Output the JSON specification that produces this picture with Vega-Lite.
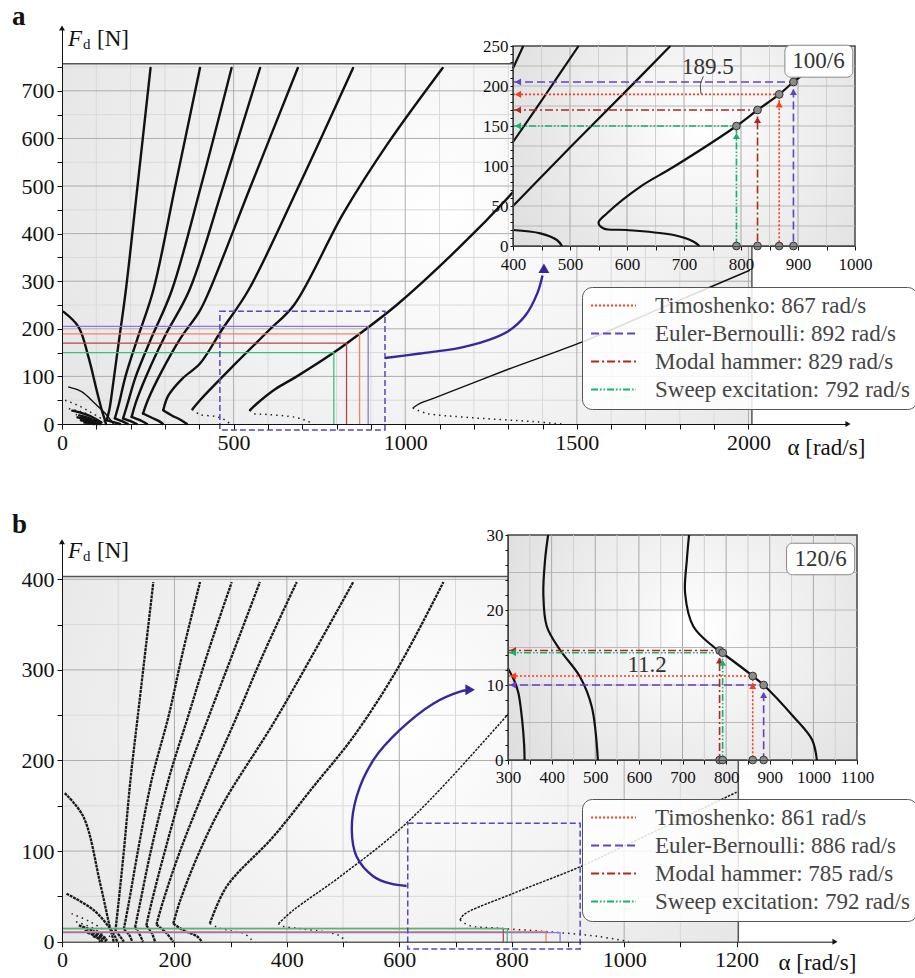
{
"$schema": "https://vega.github.io/schema/vega-lite/v6.json",
"width": 915, "height": 978, "autosize": "none", "padding": 0, "background": "white",
"config": {
  "view": {"stroke": null},
  "font": "Liberation Serif",
  "axis": {"grid": false, "zindex": 1, "domainColor": "#111", "tickColor": "#111", "labelColor": "#111", "labelFont": "Liberation Serif", "labelFontSize": 22, "titleFont": "Liberation Serif", "titleFontWeight": "normal", "titleFontSize": 23, "titleColor": "#111", "labelOverlap": false, "labelFlush": false, "tickSize": 5, "labelPadding": 3},
  "legend": {"symbolType": "M-2.4,0H2.4", "symbolSize": 350, "symbolOffset": 13, "symbolStrokeWidth": 1.8, "labelFont": "Liberation Serif", "labelFontSize": 23, "labelColor": "#444", "fillColor": "rgba(255,255,255,0.86)", "strokeColor": "#555", "cornerRadius": 10, "padding": 7, "rowPadding": 4, "labelOffset": 30, "labelLimit": 400}
},
"datasets": {
  "curvesA": [
    {"c":"C1u","k":"m","i":0,"x":130,"y":8},{"c":"C1u","k":"m","i":1,"x":138,"y":30},{"c":"C1u","k":"m","i":2,"x":150,"y":90},{"c":"C1u","k":"m","i":3,"x":165,"y":170},{"c":"C1u","k":"m","i":4,"x":186,"y":281},{"c":"C1u","k":"m","i":5,"x":220,"y":500},{"c":"C1u","k":"m","i":6,"x":258,"y":748},
    {"c":"C2u","k":"m","i":0,"x":154,"y":12},{"c":"C2u","k":"m","i":1,"x":165,"y":40},{"c":"C2u","k":"m","i":2,"x":185,"y":100},{"c":"C2u","k":"m","i":3,"x":220,"y":180},{"c":"C2u","k":"m","i":4,"x":266,"y":281},{"c":"C2u","k":"m","i":5,"x":330,"y":500},{"c":"C2u","k":"m","i":6,"x":402,"y":748},
    {"c":"C3u","k":"m","i":0,"x":178,"y":12},{"c":"C3u","k":"m","i":1,"x":190,"y":40},{"c":"C3u","k":"m","i":2,"x":215,"y":100},{"c":"C3u","k":"m","i":3,"x":260,"y":180},{"c":"C3u","k":"m","i":4,"x":320,"y":281},{"c":"C3u","k":"m","i":5,"x":405,"y":500},{"c":"C3u","k":"m","i":6,"x":494,"y":748},
    {"c":"C4u","k":"m","i":0,"x":203,"y":15},{"c":"C4u","k":"m","i":1,"x":215,"y":45},{"c":"C4u","k":"m","i":2,"x":245,"y":100},{"c":"C4u","k":"m","i":3,"x":300,"y":185},{"c":"C4u","k":"m","i":4,"x":371,"y":281},{"c":"C4u","k":"m","i":5,"x":470,"y":500},{"c":"C4u","k":"m","i":6,"x":577,"y":748},
    {"c":"C5u","k":"m","i":0,"x":236,"y":22},{"c":"C5u","k":"m","i":1,"x":250,"y":50},{"c":"C5u","k":"m","i":2,"x":290,"y":110},{"c":"C5u","k":"m","i":3,"x":345,"y":180},{"c":"C5u","k":"m","i":4,"x":400,"y":236},{"c":"C5u","k":"m","i":5,"x":430,"y":281},{"c":"C5u","k":"m","i":6,"x":550,"y":500},{"c":"C5u","k":"m","i":7,"x":687,"y":748},
    {"c":"C6u","k":"m","i":0,"x":295,"y":29},{"c":"C6u","k":"m","i":1,"x":310,"y":60},{"c":"C6u","k":"m","i":2,"x":350,"y":95},{"c":"C6u","k":"m","i":3,"x":402,"y":127},{"c":"C6u","k":"m","i":4,"x":465,"y":197},{"c":"C6u","k":"m","i":5,"x":543,"y":281},{"c":"C6u","k":"m","i":6,"x":690,"y":500},{"c":"C6u","k":"m","i":7,"x":848,"y":748},
    {"c":"C7u","k":"m","i":0,"x":380,"y":31},{"c":"C7u","k":"m","i":1,"x":402,"y":50},{"c":"C7u","k":"m","i":2,"x":500,"y":123},{"c":"C7u","k":"m","i":3,"x":603,"y":197},{"c":"C7u","k":"m","i":4,"x":676,"y":250},{"c":"C7u","k":"m","i":5,"x":820,"y":443},{"c":"C7u","k":"m","i":6,"x":950,"y":590},{"c":"C7u","k":"m","i":7,"x":1109,"y":748},
    {"c":"C8u","k":"m","i":0,"x":548,"y":29},{"c":"C8u","k":"m","i":1,"x":565,"y":41},{"c":"C8u","k":"m","i":2,"x":623,"y":74},{"c":"C8u","k":"m","i":3,"x":682,"y":99},{"c":"C8u","k":"m","i":4,"x":792,"y":150},{"c":"C8u","k":"m","i":5,"x":867,"y":189.5},{"c":"C8u","k":"m","i":6,"x":975,"y":250},{"c":"C8u","k":"m","i":7,"x":1159,"y":372},{"c":"C8u","k":"m","i":8,"x":1310,"y":484},{"c":"C8u","k":"m","i":9,"x":1450,"y":600},
    {"c":"A0","k":"m","i":0,"x":4,"y":236},{"c":"A0","k":"m","i":1,"x":48,"y":204},{"c":"A0","k":"m","i":2,"x":77,"y":141},{"c":"A0","k":"m","i":3,"x":101,"y":71},{"c":"A0","k":"m","i":4,"x":116,"y":29},{"c":"A0","k":"m","i":5,"x":125,"y":8},{"c":"A0","k":"m","i":6,"x":128,"y":0},
    {"c":"A5","k":"m","i":0,"x":60,"y":12},{"c":"A5","k":"m","i":1,"x":85,"y":8},{"c":"A5","k":"m","i":2,"x":100,"y":2},{"c":"A5","k":"m","i":3,"x":102,"y":0},
    {"c":"A6","k":"m","i":0,"x":70,"y":6},{"c":"A6","k":"m","i":1,"x":88,"y":3},{"c":"A6","k":"m","i":2,"x":95,"y":0},
    {"c":"A7","k":"m","i":0,"x":50,"y":18},{"c":"A7","k":"m","i":1,"x":80,"y":12},{"c":"A7","k":"m","i":2,"x":105,"y":4},{"c":"A7","k":"m","i":3,"x":110,"y":0},
    {"c":"A8","k":"m","i":0,"x":30,"y":28},{"c":"A8","k":"m","i":1,"x":70,"y":20},{"c":"A8","k":"m","i":2,"x":100,"y":10},{"c":"A8","k":"m","i":3,"x":115,"y":3},
    {"c":"A9","k":"m","i":0,"x":45,"y":14},{"c":"A9","k":"m","i":1,"x":75,"y":9},{"c":"A9","k":"m","i":2,"x":100,"y":4},{"c":"A9","k":"m","i":3,"x":112,"y":0},
    {"c":"A10","k":"m","i":0,"x":55,"y":8},{"c":"A10","k":"m","i":1,"x":80,"y":5},{"c":"A10","k":"m","i":2,"x":98,"y":2},{"c":"A10","k":"m","i":3,"x":104,"y":0},
    {"c":"A11","k":"m","i":0,"x":65,"y":3},{"c":"A11","k":"m","i":1,"x":85,"y":1.5},{"c":"A11","k":"m","i":2,"x":92,"y":0},
    {"c":"C1l","k":"m","i":0,"x":130,"y":8},{"c":"C1l","k":"m","i":1,"x":150,"y":4},{"c":"C1l","k":"m","i":2,"x":169,"y":0},
    {"c":"C2l","k":"m","i":0,"x":154,"y":12},{"c":"C2l","k":"m","i":1,"x":175,"y":6},{"c":"C2l","k":"m","i":2,"x":192,"y":0},
    {"c":"C3l","k":"m","i":0,"x":178,"y":12},{"c":"C3l","k":"m","i":1,"x":200,"y":6},{"c":"C3l","k":"m","i":2,"x":218,"y":0},
    {"c":"C4l","k":"m","i":0,"x":203,"y":15},{"c":"C4l","k":"m","i":1,"x":230,"y":7},{"c":"C4l","k":"m","i":2,"x":248,"y":0},
    {"c":"C5l","k":"m","i":0,"x":236,"y":22},{"c":"C5l","k":"m","i":1,"x":265,"y":12},{"c":"C5l","k":"m","i":2,"x":285,"y":5},{"c":"C5l","k":"m","i":3,"x":294,"y":0},
    {"c":"C6l","k":"m","i":0,"x":295,"y":29},{"c":"C6l","k":"m","i":1,"x":320,"y":18},{"c":"C6l","k":"m","i":2,"x":345,"y":9},{"c":"C6l","k":"m","i":3,"x":364,"y":0},
    {"c":"C9u","k":"t","i":0,"x":1022,"y":33.6},{"c":"C9u","k":"t","i":1,"x":1043,"y":43.4},{"c":"C9u","k":"t","i":2,"x":1082,"y":54},{"c":"C9u","k":"t","i":3,"x":1300,"y":115},{"c":"C9u","k":"t","i":4,"x":1518,"y":173},{"c":"C9u","k":"t","i":5,"x":1750,"y":245},{"c":"C9u","k":"t","i":6,"x":2004,"y":323},
    {"c":"A1","k":"t","i":0,"x":18,"y":78},{"c":"A1","k":"t","i":1,"x":57,"y":68},{"c":"A1","k":"t","i":2,"x":96,"y":43},{"c":"A1","k":"t","i":3,"x":125,"y":23},{"c":"A1","k":"t","i":4,"x":145,"y":5},{"c":"A1","k":"t","i":5,"x":150,"y":0},
    {"c":"C7l","k":"d","i":0,"x":380,"y":31},{"c":"C7l","k":"d","i":1,"x":402,"y":20},{"c":"C7l","k":"d","i":2,"x":448,"y":15.8},{"c":"C7l","k":"d","i":3,"x":477,"y":7.5},{"c":"C7l","k":"d","i":4,"x":489,"y":0},
    {"c":"C8l","k":"d","i":0,"x":548,"y":29},{"c":"C8l","k":"d","i":1,"x":559,"y":22},{"c":"C8l","k":"d","i":2,"x":600,"y":20},{"c":"C8l","k":"d","i":3,"x":682,"y":13.7},{"c":"C8l","k":"d","i":4,"x":717,"y":5.4},{"c":"C8l","k":"d","i":5,"x":730,"y":0},
    {"c":"C9l","k":"d","i":0,"x":1022,"y":33.6},{"c":"C9l","k":"d","i":1,"x":1062,"y":22.5},{"c":"C9l","k":"d","i":2,"x":1179,"y":14},{"c":"C9l","k":"d","i":3,"x":1373,"y":5},{"c":"C9l","k":"d","i":4,"x":1455,"y":0},
    {"c":"A2","k":"d","i":0,"x":9,"y":50},{"c":"A2","k":"d","i":1,"x":50,"y":38},{"c":"A2","k":"d","i":2,"x":90,"y":22},{"c":"A2","k":"d","i":3,"x":120,"y":8},{"c":"A2","k":"d","i":4,"x":128,"y":0},
    {"c":"A3","k":"d","i":0,"x":20,"y":32},{"c":"A3","k":"d","i":1,"x":60,"y":25},{"c":"A3","k":"d","i":2,"x":95,"y":12},{"c":"A3","k":"d","i":3,"x":115,"y":3},
    {"c":"A4","k":"d","i":0,"x":40,"y":20},{"c":"A4","k":"d","i":1,"x":70,"y":14},{"c":"A4","k":"d","i":2,"x":100,"y":5},{"c":"A4","k":"d","i":3,"x":108,"y":0}
  ],
  "curvesB": [
    {"c":"B1u","k":"m","i":0,"x":95,"y":12},{"c":"B1u","k":"m","i":1,"x":100,"y":40},{"c":"B1u","k":"m","i":2,"x":110,"y":100},{"c":"B1u","k":"m","i":3,"x":122,"y":180},{"c":"B1u","k":"m","i":4,"x":135,"y":250},{"c":"B1u","k":"m","i":5,"x":150,"y":330},{"c":"B1u","k":"m","i":6,"x":162.5,"y":397},
    {"c":"B2u","k":"m","i":0,"x":110,"y":14},{"c":"B2u","k":"m","i":1,"x":118,"y":40},{"c":"B2u","k":"m","i":2,"x":135,"y":100},{"c":"B2u","k":"m","i":3,"x":160,"y":180},{"c":"B2u","k":"m","i":4,"x":190,"y":250},{"c":"B2u","k":"m","i":5,"x":215,"y":320},{"c":"B2u","k":"m","i":6,"x":245.6,"y":397},
    {"c":"B3u","k":"m","i":0,"x":130,"y":16},{"c":"B3u","k":"m","i":1,"x":138,"y":40},{"c":"B3u","k":"m","i":2,"x":158,"y":100},{"c":"B3u","k":"m","i":3,"x":190,"y":180},{"c":"B3u","k":"m","i":4,"x":225,"y":250},{"c":"B3u","k":"m","i":5,"x":260,"y":320},{"c":"B3u","k":"m","i":6,"x":302,"y":397},
    {"c":"B4u","k":"m","i":0,"x":150,"y":18},{"c":"B4u","k":"m","i":1,"x":160,"y":45},{"c":"B4u","k":"m","i":2,"x":183,"y":100},{"c":"B4u","k":"m","i":3,"x":220,"y":180},{"c":"B4u","k":"m","i":4,"x":262,"y":250},{"c":"B4u","k":"m","i":5,"x":305,"y":320},{"c":"B4u","k":"m","i":6,"x":352,"y":397},
    {"c":"B5u","k":"m","i":0,"x":168,"y":19},{"c":"B5u","k":"m","i":1,"x":180,"y":45},{"c":"B5u","k":"m","i":2,"x":210,"y":100},{"c":"B5u","k":"m","i":3,"x":255,"y":170},{"c":"B5u","k":"m","i":4,"x":305,"y":240},{"c":"B5u","k":"m","i":5,"x":360,"y":320},{"c":"B5u","k":"m","i":6,"x":417.6,"y":397},
    {"c":"B6u","k":"m","i":0,"x":198,"y":20},{"c":"B6u","k":"m","i":1,"x":210,"y":45},{"c":"B6u","k":"m","i":2,"x":245,"y":100},{"c":"B6u","k":"m","i":3,"x":287,"y":153},{"c":"B6u","k":"m","i":4,"x":376,"y":241},{"c":"B6u","k":"m","i":5,"x":447,"y":318},{"c":"B6u","k":"m","i":6,"x":518,"y":397},
    {"c":"B7u","k":"m","i":0,"x":263,"y":20},{"c":"B7u","k":"m","i":1,"x":293,"y":61},{"c":"B7u","k":"m","i":2,"x":376,"y":116},{"c":"B7u","k":"m","i":3,"x":447,"y":171},{"c":"B7u","k":"m","i":4,"x":518,"y":226},{"c":"B7u","k":"m","i":5,"x":595.5,"y":300},{"c":"B7u","k":"m","i":6,"x":678.5,"y":397},
    {"c":"Bl0","k":"m","i":0,"x":5,"y":164},{"c":"Bl0","k":"m","i":1,"x":38,"y":138},{"c":"Bl0","k":"m","i":2,"x":68,"y":64},{"c":"Bl0","k":"m","i":3,"x":85,"y":16.5},{"c":"Bl0","k":"m","i":4,"x":90,"y":5},{"c":"Bl0","k":"m","i":5,"x":92,"y":0},
    {"c":"Bl1","k":"m","i":0,"x":8,"y":53},{"c":"Bl1","k":"m","i":1,"x":56,"y":35},{"c":"Bl1","k":"m","i":2,"x":85,"y":15},{"c":"Bl1","k":"m","i":3,"x":95,"y":5},{"c":"Bl1","k":"m","i":4,"x":98,"y":0},
    {"c":"B1l","k":"m","i":0,"x":95,"y":12},{"c":"B1l","k":"m","i":1,"x":103,"y":6},{"c":"B1l","k":"m","i":2,"x":110,"y":0},
    {"c":"B2l","k":"m","i":0,"x":110,"y":14},{"c":"B2l","k":"m","i":1,"x":120,"y":7},{"c":"B2l","k":"m","i":2,"x":125,"y":0},
    {"c":"B3l","k":"m","i":0,"x":130,"y":16},{"c":"B3l","k":"m","i":1,"x":138,"y":8},{"c":"B3l","k":"m","i":2,"x":144,"y":0},
    {"c":"B4l","k":"m","i":0,"x":150,"y":18},{"c":"B4l","k":"m","i":1,"x":160,"y":9},{"c":"B4l","k":"m","i":2,"x":165.5,"y":0},
    {"c":"B5l","k":"m","i":0,"x":168,"y":19},{"c":"B5l","k":"m","i":1,"x":185,"y":10},{"c":"B5l","k":"m","i":2,"x":198,"y":0},
    {"c":"B6l","k":"m","i":0,"x":198,"y":20},{"c":"B6l","k":"m","i":1,"x":215,"y":13},{"c":"B6l","k":"m","i":2,"x":240,"y":6},{"c":"B6l","k":"m","i":3,"x":249,"y":0},
    {"c":"Bb1","k":"m","i":0,"x":45,"y":10},{"c":"Bb1","k":"m","i":1,"x":60,"y":6},{"c":"Bb1","k":"m","i":2,"x":70,"y":2},{"c":"Bb1","k":"m","i":3,"x":72,"y":0},
    {"c":"Bb2","k":"m","i":0,"x":55,"y":6},{"c":"Bb2","k":"m","i":1,"x":65,"y":3},{"c":"Bb2","k":"m","i":2,"x":68,"y":0},
    {"c":"Bb3","k":"m","i":0,"x":30,"y":18},{"c":"Bb3","k":"m","i":1,"x":55,"y":12},{"c":"Bb3","k":"m","i":2,"x":75,"y":5},{"c":"Bb3","k":"m","i":3,"x":80,"y":1},
    {"c":"Bb4","k":"m","i":0,"x":40,"y":12},{"c":"Bb4","k":"m","i":1,"x":60,"y":8},{"c":"Bb4","k":"m","i":2,"x":75,"y":3},{"c":"Bb4","k":"m","i":3,"x":78,"y":0},
    {"c":"B8u","k":"t","i":0,"x":385,"y":20},{"c":"B8u","k":"t","i":1,"x":412,"y":35},{"c":"B8u","k":"t","i":2,"x":495,"y":72},{"c":"B8u","k":"t","i":3,"x":613,"y":131},{"c":"B8u","k":"t","i":4,"x":779,"y":241},{"c":"B8u","k":"t","i":5,"x":860,"y":300},
    {"c":"B9u","k":"t","i":0,"x":708,"y":24},{"c":"B9u","k":"t","i":1,"x":715,"y":30},{"c":"B9u","k":"t","i":2,"x":803,"y":53.4},{"c":"B9u","k":"t","i":3,"x":922,"y":82.8},{"c":"B9u","k":"t","i":4,"x":998,"y":105},{"c":"B9u","k":"t","i":5,"x":1200,"y":165},
    {"c":"B7l","k":"d","i":0,"x":263,"y":20},{"c":"B7l","k":"d","i":1,"x":280,"y":15},{"c":"B7l","k":"d","i":2,"x":300,"y":12.2},{"c":"B7l","k":"d","i":3,"x":324,"y":8.9},{"c":"B7l","k":"d","i":4,"x":337,"y":2},{"c":"B7l","k":"d","i":5,"x":338,"y":0},
    {"c":"B8l","k":"d","i":0,"x":385,"y":20},{"c":"B8l","k":"d","i":1,"x":389,"y":17.8},{"c":"B8l","k":"d","i":2,"x":419,"y":14.7},{"c":"B8l","k":"d","i":3,"x":465,"y":11.1},{"c":"B8l","k":"d","i":4,"x":492,"y":7.1},{"c":"B8l","k":"d","i":5,"x":506,"y":0},
    {"c":"B9l","k":"d","i":0,"x":708,"y":24},{"c":"B9l","k":"d","i":1,"x":725,"y":17.8},{"c":"B9l","k":"d","i":2,"x":771,"y":15.1},{"c":"B9l","k":"d","i":3,"x":861,"y":11.2},{"c":"B9l","k":"d","i":4,"x":954,"y":5.8},{"c":"B9l","k":"d","i":5,"x":1008,"y":0},
    {"c":"Bl2","k":"d","i":0,"x":17,"y":31},{"c":"Bl2","k":"d","i":1,"x":50,"y":22},{"c":"Bl2","k":"d","i":2,"x":80,"y":10},{"c":"Bl2","k":"d","i":3,"x":88,"y":2},
    {"c":"Bl3","k":"d","i":0,"x":25,"y":22},{"c":"Bl3","k":"d","i":1,"x":55,"y":15},{"c":"Bl3","k":"d","i":2,"x":75,"y":6},{"c":"Bl3","k":"d","i":3,"x":80,"y":0},
    {"c":"Bl4","k":"d","i":0,"x":35,"y":15},{"c":"Bl4","k":"d","i":1,"x":60,"y":9},{"c":"Bl4","k":"d","i":2,"x":72,"y":3}
  ],
  "insetA": [
    {"c":"IA5","i":0,"x":400,"y":222},{"c":"IA5","i":1,"x":418,"y":250},
    {"c":"IA6","i":0,"x":400,"y":130},{"c":"IA6","i":1,"x":458,"y":190},{"c":"IA6","i":2,"x":515,"y":250},
    {"c":"IA7","i":0,"x":400,"y":50},{"c":"IA7","i":1,"x":500,"y":123},{"c":"IA7","i":2,"x":603,"y":197},{"c":"IA7","i":3,"x":676,"y":250},
    {"c":"IA7l","i":0,"x":400,"y":20},{"c":"IA7l","i":1,"x":448,"y":15.8},{"c":"IA7l","i":2,"x":477,"y":7.5},{"c":"IA7l","i":3,"x":486,"y":0},
    {"c":"IA8","i":0,"x":727,"y":0},{"c":"IA8","i":1,"x":717,"y":5.4},{"c":"IA8","i":2,"x":682,"y":13.7},{"c":"IA8","i":3,"x":600,"y":20},{"c":"IA8","i":4,"x":559,"y":22},{"c":"IA8","i":5,"x":550,"y":29},{"c":"IA8","i":6,"x":565,"y":41},{"c":"IA8","i":7,"x":623,"y":74},{"c":"IA8","i":8,"x":682,"y":99},{"c":"IA8","i":9,"x":792,"y":150},{"c":"IA8","i":10,"x":829,"y":170},{"c":"IA8","i":11,"x":867,"y":189.5},{"c":"IA8","i":12,"x":892,"y":205},{"c":"IA8","i":13,"x":975,"y":250}
  ],
  "insetB": [
    {"c":"IB1","i":0,"x":300,"y":12.2},{"c":"IB1","i":1,"x":315,"y":10.5},{"c":"IB1","i":2,"x":324,"y":8.9},{"c":"IB1","i":3,"x":333,"y":5},{"c":"IB1","i":4,"x":337,"y":2},{"c":"IB1","i":5,"x":338,"y":0},
    {"c":"IB2","i":0,"x":392,"y":30},{"c":"IB2","i":1,"x":385,"y":26.7},{"c":"IB2","i":2,"x":381,"y":22.2},{"c":"IB2","i":3,"x":389,"y":17.8},{"c":"IB2","i":4,"x":419,"y":14.7},{"c":"IB2","i":5,"x":465,"y":11.1},{"c":"IB2","i":6,"x":492,"y":7.1},{"c":"IB2","i":7,"x":506,"y":0},
    {"c":"IB3","i":0,"x":715,"y":30},{"c":"IB3","i":1,"x":710,"y":26.7},{"c":"IB3","i":2,"x":706,"y":22.2},{"c":"IB3","i":3,"x":725,"y":17.8},{"c":"IB3","i":4,"x":771,"y":15.1},{"c":"IB3","i":5,"x":788,"y":14.4},{"c":"IB3","i":6,"x":861,"y":11.2},{"c":"IB3","i":7,"x":886,"y":10},{"c":"IB3","i":8,"x":954,"y":5.8},{"c":"IB3","i":9,"x":997,"y":2.7},{"c":"IB3","i":10,"x":1008,"y":0}
  ],
  "guidesA": [
    {"label":"Timoshenko: 867 rad/s","i":0,"x":0,"y":189.5},{"label":"Timoshenko: 867 rad/s","i":1,"x":867,"y":189.5},{"label":"Timoshenko: 867 rad/s","i":2,"x":867,"y":0},
    {"label":"Euler-Bernoulli: 892 rad/s","i":0,"x":0,"y":205},{"label":"Euler-Bernoulli: 892 rad/s","i":1,"x":892,"y":205},{"label":"Euler-Bernoulli: 892 rad/s","i":2,"x":892,"y":0},
    {"label":"Modal hammer: 829 rad/s","i":0,"x":0,"y":170},{"label":"Modal hammer: 829 rad/s","i":1,"x":829,"y":170},{"label":"Modal hammer: 829 rad/s","i":2,"x":829,"y":0},
    {"label":"Sweep excitation: 792 rad/s","i":0,"x":0,"y":150},{"label":"Sweep excitation: 792 rad/s","i":1,"x":792,"y":150},{"label":"Sweep excitation: 792 rad/s","i":2,"x":792,"y":0}
  ],
  "arrowsIA": [
    {"label":"Timoshenko: 867 rad/s","i":0,"x":400,"y":189.5},{"label":"Timoshenko: 867 rad/s","i":1,"x":867,"y":189.5},{"label":"Timoshenko: 867 rad/s","i":2,"x":867,"y":0},
    {"label":"Euler-Bernoulli: 892 rad/s","i":0,"x":400,"y":205},{"label":"Euler-Bernoulli: 892 rad/s","i":1,"x":892,"y":205},{"label":"Euler-Bernoulli: 892 rad/s","i":2,"x":892,"y":0},
    {"label":"Modal hammer: 829 rad/s","i":0,"x":400,"y":170},{"label":"Modal hammer: 829 rad/s","i":1,"x":829,"y":170},{"label":"Modal hammer: 829 rad/s","i":2,"x":829,"y":0},
    {"label":"Sweep excitation: 792 rad/s","i":0,"x":400,"y":150},{"label":"Sweep excitation: 792 rad/s","i":1,"x":792,"y":150},{"label":"Sweep excitation: 792 rad/s","i":2,"x":792,"y":0}
  ],
  "guidesB": [
    {"label":"Timoshenko: 861 rad/s","i":0,"x":0,"y":11.2},{"label":"Timoshenko: 861 rad/s","i":1,"x":861,"y":11.2},{"label":"Timoshenko: 861 rad/s","i":2,"x":861,"y":0},
    {"label":"Euler-Bernoulli: 886 rad/s","i":0,"x":0,"y":10},{"label":"Euler-Bernoulli: 886 rad/s","i":1,"x":886,"y":10},{"label":"Euler-Bernoulli: 886 rad/s","i":2,"x":886,"y":0},
    {"label":"Modal hammer: 785 rad/s","i":0,"x":0,"y":14.6},{"label":"Modal hammer: 785 rad/s","i":1,"x":785,"y":14.6},{"label":"Modal hammer: 785 rad/s","i":2,"x":785,"y":0},
    {"label":"Sweep excitation: 792 rad/s","i":0,"x":0,"y":14.3},{"label":"Sweep excitation: 792 rad/s","i":1,"x":792,"y":14.3},{"label":"Sweep excitation: 792 rad/s","i":2,"x":792,"y":0}
  ],
  "arrowsIB": [
    {"label":"Timoshenko: 861 rad/s","i":0,"x":300,"y":11.2},{"label":"Timoshenko: 861 rad/s","i":1,"x":861,"y":11.2},{"label":"Timoshenko: 861 rad/s","i":2,"x":861,"y":0},
    {"label":"Euler-Bernoulli: 886 rad/s","i":0,"x":300,"y":10},{"label":"Euler-Bernoulli: 886 rad/s","i":1,"x":886,"y":10},{"label":"Euler-Bernoulli: 886 rad/s","i":2,"x":886,"y":0},
    {"label":"Modal hammer: 785 rad/s","i":0,"x":300,"y":14.6},{"label":"Modal hammer: 785 rad/s","i":1,"x":785,"y":14.6},{"label":"Modal hammer: 785 rad/s","i":2,"x":785,"y":0},
    {"label":"Sweep excitation: 792 rad/s","i":0,"x":300,"y":14.3},{"label":"Sweep excitation: 792 rad/s","i":1,"x":792,"y":14.3},{"label":"Sweep excitation: 792 rad/s","i":2,"x":792,"y":0}
  ],
  "arrowA": [
    {"i":0,"x":941,"y":138.6},{"i":1,"x":1043,"y":148},{"i":2,"x":1159,"y":160},{"i":3,"x":1237,"y":175},{"i":4,"x":1300,"y":195},{"i":5,"x":1350,"y":228},{"i":6,"x":1385,"y":275},{"i":7,"x":1400,"y":312}
  ],
  "arrowB": [
    {"i":0,"x":613,"y":61.5},{"i":1,"x":585,"y":64},{"i":2,"x":554,"y":72},{"i":3,"x":524,"y":94},{"i":4,"x":515.5,"y":123},{"i":5,"x":524,"y":160},{"i":6,"x":554,"y":200.6},{"i":7,"x":601,"y":233.7},{"i":8,"x":661,"y":263},{"i":9,"x":708,"y":276},{"i":10,"x":720,"y":277.5}
  ],
  "gridA": [
    {"a":"x","v":100,"m":0,"lo":0,"hi":757},{"a":"x","v":200,"m":0,"lo":0,"hi":757},{"a":"x","v":300,"m":0,"lo":0,"hi":757},{"a":"x","v":400,"m":0,"lo":0,"hi":757},{"a":"x","v":500,"m":1,"lo":0,"hi":757},{"a":"x","v":600,"m":0,"lo":0,"hi":757},{"a":"x","v":700,"m":0,"lo":0,"hi":757},{"a":"x","v":800,"m":0,"lo":0,"hi":757},{"a":"x","v":900,"m":0,"lo":0,"hi":757},{"a":"x","v":1000,"m":1,"lo":0,"hi":757},{"a":"x","v":1100,"m":0,"lo":0,"hi":757},{"a":"x","v":1200,"m":0,"lo":0,"hi":757},{"a":"x","v":1300,"m":0,"lo":0,"hi":757},{"a":"x","v":1400,"m":0,"lo":0,"hi":757},{"a":"x","v":1500,"m":1,"lo":0,"hi":757},{"a":"x","v":1600,"m":0,"lo":0,"hi":757},{"a":"x","v":1700,"m":0,"lo":0,"hi":757},{"a":"x","v":1800,"m":0,"lo":0,"hi":757},{"a":"x","v":1900,"m":0,"lo":0,"hi":757},{"a":"x","v":2000,"m":1,"lo":0,"hi":757},
    {"a":"y","v":50,"m":0,"lo":0,"hi":2010},{"a":"y","v":100,"m":1,"lo":0,"hi":2010},{"a":"y","v":150,"m":0,"lo":0,"hi":2010},{"a":"y","v":200,"m":1,"lo":0,"hi":2010},{"a":"y","v":250,"m":0,"lo":0,"hi":2010},{"a":"y","v":300,"m":1,"lo":0,"hi":2010},{"a":"y","v":350,"m":0,"lo":0,"hi":2010},{"a":"y","v":400,"m":1,"lo":0,"hi":2010},{"a":"y","v":450,"m":0,"lo":0,"hi":2010},{"a":"y","v":500,"m":1,"lo":0,"hi":2010},{"a":"y","v":550,"m":0,"lo":0,"hi":2010},{"a":"y","v":600,"m":1,"lo":0,"hi":2010},{"a":"y","v":650,"m":0,"lo":0,"hi":2010},{"a":"y","v":700,"m":1,"lo":0,"hi":2010},{"a":"y","v":750,"m":0,"lo":0,"hi":2010}
  ],
  "gridB": [
    {"a":"x","v":100,"m":0,"lo":0,"hi":403},{"a":"x","v":200,"m":1,"lo":0,"hi":403},{"a":"x","v":300,"m":0,"lo":0,"hi":403},{"a":"x","v":400,"m":1,"lo":0,"hi":403},{"a":"x","v":500,"m":0,"lo":0,"hi":403},{"a":"x","v":600,"m":1,"lo":0,"hi":403},{"a":"x","v":700,"m":0,"lo":0,"hi":403},{"a":"x","v":800,"m":1,"lo":0,"hi":403},{"a":"x","v":900,"m":0,"lo":0,"hi":403},{"a":"x","v":1000,"m":1,"lo":0,"hi":403},{"a":"x","v":1100,"m":0,"lo":0,"hi":403},
    {"a":"y","v":50,"m":0,"lo":0,"hi":1203},{"a":"y","v":100,"m":1,"lo":0,"hi":1203},{"a":"y","v":150,"m":0,"lo":0,"hi":1203},{"a":"y","v":200,"m":1,"lo":0,"hi":1203},{"a":"y","v":250,"m":0,"lo":0,"hi":1203},{"a":"y","v":300,"m":1,"lo":0,"hi":1203},{"a":"y","v":350,"m":0,"lo":0,"hi":1203},{"a":"y","v":400,"m":1,"lo":0,"hi":1203}
  ],
  "gridIA": [
    {"a":"x","v":450,"m":0,"lo":0,"hi":250},{"a":"x","v":500,"m":1,"lo":0,"hi":250},{"a":"x","v":550,"m":0,"lo":0,"hi":250},{"a":"x","v":600,"m":1,"lo":0,"hi":250},{"a":"x","v":650,"m":0,"lo":0,"hi":250},{"a":"x","v":700,"m":1,"lo":0,"hi":250},{"a":"x","v":750,"m":0,"lo":0,"hi":250},{"a":"x","v":800,"m":1,"lo":0,"hi":250},{"a":"x","v":850,"m":0,"lo":0,"hi":250},{"a":"x","v":900,"m":1,"lo":0,"hi":250},{"a":"x","v":950,"m":0,"lo":0,"hi":250},
    {"a":"y","v":25,"m":0,"lo":400,"hi":1000},{"a":"y","v":50,"m":1,"lo":400,"hi":1000},{"a":"y","v":75,"m":0,"lo":400,"hi":1000},{"a":"y","v":100,"m":1,"lo":400,"hi":1000},{"a":"y","v":125,"m":0,"lo":400,"hi":1000},{"a":"y","v":150,"m":1,"lo":400,"hi":1000},{"a":"y","v":175,"m":0,"lo":400,"hi":1000},{"a":"y","v":200,"m":1,"lo":400,"hi":1000},{"a":"y","v":225,"m":0,"lo":400,"hi":1000}
  ],
  "gridIB": [
    {"a":"x","v":350,"m":0,"lo":0,"hi":30},{"a":"x","v":400,"m":1,"lo":0,"hi":30},{"a":"x","v":450,"m":0,"lo":0,"hi":30},{"a":"x","v":500,"m":1,"lo":0,"hi":30},{"a":"x","v":550,"m":0,"lo":0,"hi":30},{"a":"x","v":600,"m":1,"lo":0,"hi":30},{"a":"x","v":650,"m":0,"lo":0,"hi":30},{"a":"x","v":700,"m":1,"lo":0,"hi":30},{"a":"x","v":750,"m":0,"lo":0,"hi":30},{"a":"x","v":800,"m":1,"lo":0,"hi":30},{"a":"x","v":850,"m":0,"lo":0,"hi":30},{"a":"x","v":900,"m":1,"lo":0,"hi":30},{"a":"x","v":950,"m":0,"lo":0,"hi":30},{"a":"x","v":1000,"m":1,"lo":0,"hi":30},{"a":"x","v":1050,"m":0,"lo":0,"hi":30},
    {"a":"y","v":5,"m":0,"lo":300,"hi":1100},{"a":"y","v":10,"m":1,"lo":300,"hi":1100},{"a":"y","v":15,"m":0,"lo":300,"hi":1100},{"a":"y","v":20,"m":1,"lo":300,"hi":1100},{"a":"y","v":25,"m":0,"lo":300,"hi":1100}
  ]
},
"layer": [
 {"data": {"values": [{"x0": 0, "x1": 2010, "y0": 0, "y1": 757}]},
  "mark": {"type": "rect", "fill": {"gradient": "radial", "x1": 0.55, "y1": 0.45, "r1": 0, "x2": 0.55, "y2": 0.45, "r2": 0.8, "stops": [{"offset": 0, "color": "#ffffff"}, {"offset": 1, "color": "#dedede"}]}},
  "encoding": {
    "x": {"field": "x0", "type": "quantitative", "scale": {"domain": [0, 2290], "range": [62, 848], "nice": false, "zero": false},
          "axis": {"orient": "bottom", "offset": -554, "zindex": 2, "values": [0,100,200,300,400,500,600,700,800,900,1000,1100,1200,1300,1400,1500,1600,1700,1800,1900,2000], "labelExpr": "datum.value % 500 === 0 ? datum.label : ''", "format": "d", "labelFont": "Liberation Serif", "titleFont": "Liberation Serif", "title": "α [rad/s]", "titleX": 787, "titleY": 23, "titleAlign": "left", "titleBaseline": "middle", "titleAngle": 0}},
    "x2": {"field": "x1"},
    "y": {"field": "y0", "type": "quantitative", "scale": {"domain": [0, 832], "range": [424, 28], "nice": false, "zero": false},
          "axis": {"orient": "left", "offset": -62, "zindex": 2, "values": [0,50,100,150,200,250,300,350,400,450,500,550,600,650,700,750], "labelExpr": "datum.value % 100 === 0 ? datum.label : ''", "format": "d", "labelFont": "Liberation Serif", "title": null}},
    "y2": {"field": "y1"}
  }},
 {"data": {"name": "gridA"}, "transform": [{"filter": "datum.a === 'x' && datum.m === 0"}],
  "mark": {"type": "rule", "strokeWidth": 1, "color": "#dadada"},
  "encoding": {"x": {"field": "v", "type": "quantitative", "scale": {"domain": [0, 2290], "range": [62, 848], "nice": false, "zero": false}, "axis": null},
               "y": {"field": "lo", "type": "quantitative", "scale": {"domain": [0, 832], "range": [424, 28], "nice": false, "zero": false}, "axis": null}, "y2": {"field": "hi"}}},
 {"data": {"name": "gridA"}, "transform": [{"filter": "datum.a === 'y' && datum.m === 0"}],
  "mark": {"type": "rule", "strokeWidth": 1, "color": "#dadada"},
  "encoding": {"y": {"field": "v", "type": "quantitative", "scale": {"domain": [0, 832], "range": [424, 28], "nice": false, "zero": false}, "axis": null},
               "x": {"field": "lo", "type": "quantitative", "scale": {"domain": [0, 2290], "range": [62, 848], "nice": false, "zero": false}, "axis": null}, "x2": {"field": "hi"}}},
 {"data": {"name": "gridA"}, "transform": [{"filter": "datum.a === 'x' && datum.m === 1"}],
  "mark": {"type": "rule", "strokeWidth": 1, "color": "#adadad"},
  "encoding": {"x": {"field": "v", "type": "quantitative", "scale": {"domain": [0, 2290], "range": [62, 848], "nice": false, "zero": false}, "axis": null},
               "y": {"field": "lo", "type": "quantitative", "scale": {"domain": [0, 832], "range": [424, 28], "nice": false, "zero": false}, "axis": null}, "y2": {"field": "hi"}}},
 {"data": {"name": "gridA"}, "transform": [{"filter": "datum.a === 'y' && datum.m === 1"}],
  "mark": {"type": "rule", "strokeWidth": 1, "color": "#adadad"},
  "encoding": {"y": {"field": "v", "type": "quantitative", "scale": {"domain": [0, 832], "range": [424, 28], "nice": false, "zero": false}, "axis": null},
               "x": {"field": "lo", "type": "quantitative", "scale": {"domain": [0, 2290], "range": [62, 848], "nice": false, "zero": false}, "axis": null}, "x2": {"field": "hi"}}},
 {"data": {"values": [{"x0": 0, "x1": 2290, "y0": 757, "y1": 757}, {"x0": 2010, "x1": 2010, "y0": 0, "y1": 757}]}, "mark": {"type": "rule", "color": "#555", "strokeWidth": 1.5},
  "encoding": {"x": {"field": "x0", "type": "quantitative", "scale": {"domain": [0, 2290], "range": [62, 848], "nice": false, "zero": false}, "axis": null}, "x2": {"field": "x1"},
               "y": {"field": "y0", "type": "quantitative", "scale": {"domain": [0, 832], "range": [424, 28], "nice": false, "zero": false}, "axis": null}, "y2": {"field": "y1"}}},
 {"data": {"name": "curvesA"}, "transform": [{"filter": "datum.k === 'm'"}],
  "mark": {"type": "line", "interpolate": "catmull-rom", "color": "#111", "strokeWidth": 2.4, "strokeCap": "round"},
  "encoding": {"x": {"field": "x", "type": "quantitative", "scale": {"domain": [0, 2290], "range": [62, 848], "nice": false, "zero": false}, "axis": null},
               "y": {"field": "y", "type": "quantitative", "scale": {"domain": [0, 832], "range": [424, 28], "nice": false, "zero": false}, "axis": null},
               "detail": {"field": "c", "type": "nominal"}, "order": {"field": "i", "type": "quantitative"}}},
 {"data": {"name": "curvesA"}, "transform": [{"filter": "datum.k === 't'"}],
  "mark": {"type": "line", "interpolate": "catmull-rom", "color": "#111", "strokeWidth": 1.4},
  "encoding": {"x": {"field": "x", "type": "quantitative", "scale": {"domain": [0, 2290], "range": [62, 848], "nice": false, "zero": false}, "axis": null},
               "y": {"field": "y", "type": "quantitative", "scale": {"domain": [0, 832], "range": [424, 28], "nice": false, "zero": false}, "axis": null},
               "detail": {"field": "c", "type": "nominal"}, "order": {"field": "i", "type": "quantitative"}}},
 {"data": {"name": "curvesA"}, "transform": [{"filter": "datum.k === 'd'"}],
  "mark": {"type": "line", "interpolate": "catmull-rom", "color": "#222", "strokeWidth": 1.5, "strokeDash": [1.5, 4]},
  "encoding": {"x": {"field": "x", "type": "quantitative", "scale": {"domain": [0, 2290], "range": [62, 848], "nice": false, "zero": false}, "axis": null},
               "y": {"field": "y", "type": "quantitative", "scale": {"domain": [0, 832], "range": [424, 28], "nice": false, "zero": false}, "axis": null},
               "detail": {"field": "c", "type": "nominal"}, "order": {"field": "i", "type": "quantitative"}}},
 {"data": {"name": "guidesA"}, "mark": {"type": "line", "strokeWidth": 1.3},
  "encoding": {"x": {"field": "x", "type": "quantitative", "scale": {"domain": [0, 2290], "range": [62, 848], "nice": false, "zero": false}, "axis": null},
               "y": {"field": "y", "type": "quantitative", "scale": {"domain": [0, 832], "range": [424, 28], "nice": false, "zero": false}, "axis": null},
               "order": {"field": "i", "type": "quantitative"},
               "stroke": {"field": "label", "type": "nominal", "scale": {"domain": ["Timoshenko: 867 rad/s","Euler-Bernoulli: 892 rad/s","Modal hammer: 829 rad/s","Sweep excitation: 792 rad/s"], "range": ["#f4845f","#8a78d8","#b04848","#3fbf7f"]}, "legend": null}}},
 {"data": {"values": [{"x0": 460, "x1": 941, "y0": -12.6, "y1": 237}]}, "mark": {"type": "rect", "filled": false, "color": "#5645c4", "strokeDash": [6, 3], "strokeWidth": 1.5},
  "encoding": {"x": {"field": "x0", "type": "quantitative", "scale": {"domain": [0, 2290], "range": [62, 848], "nice": false, "zero": false}, "axis": null}, "x2": {"field": "x1"},
               "y": {"field": "y0", "type": "quantitative", "scale": {"domain": [0, 832], "range": [424, 28], "nice": false, "zero": false}, "axis": null}, "y2": {"field": "y1"}}},
 {"data": {"name": "arrowA"}, "mark": {"type": "line", "interpolate": "catmull-rom", "color": "#35289c", "strokeWidth": 2.4},
  "encoding": {"x": {"field": "x", "type": "quantitative", "scale": {"domain": [0, 2290], "range": [62, 848], "nice": false, "zero": false}, "axis": null},
               "y": {"field": "y", "type": "quantitative", "scale": {"domain": [0, 832], "range": [424, 28], "nice": false, "zero": false}, "axis": null},
               "order": {"field": "i", "type": "quantitative"}}},
 {"data": {"values": [{"x": 1404, "y": 327, "s": "triangle-up", "z": "big"}, {"x": 2290, "y": 0, "s": "triangle-right", "z": "small"}, {"x": 0, "y": 832, "s": "triangle-up", "z": "small"}]}, "mark": {"type": "point", "filled": true, "opacity": 1},
  "encoding": {"x": {"field": "x", "type": "quantitative", "scale": {"domain": [0, 2290], "range": [62, 848], "nice": false, "zero": false}, "axis": null},
               "y": {"field": "y", "type": "quantitative", "scale": {"domain": [0, 832], "range": [424, 28], "nice": false, "zero": false}, "axis": null},
               "shape": {"field": "s", "type": "nominal", "scale": null},
               "color": {"field": "z", "type": "nominal", "scale": {"domain": ["big", "small"], "range": ["#35289c", "#111"]}, "legend": null},
               "size": {"field": "z", "type": "nominal", "scale": {"domain": ["big", "small"], "range": [120, 35]}, "legend": null}}},
 {"data": {"values": [{"t": "F", "x": 17.5, "y": 794}]}, "mark": {"type": "text", "fontSize": 23, "fontStyle": "italic", "align": "left", "baseline": "alphabetic", "color": "#111", "font": "Liberation Serif"},
  "encoding": {"x": {"field": "x", "type": "quantitative", "scale": {"domain": [0, 2290], "range": [62, 848], "nice": false, "zero": false}, "axis": null},
               "y": {"field": "y", "type": "quantitative", "scale": {"domain": [0, 832], "range": [424, 28], "nice": false, "zero": false}, "axis": null}, "text": {"field": "t", "type": "nominal"}}},
 {"data": {"values": [{"t": "[N]", "x": 102, "y": 794}]}, "mark": {"type": "text", "fontSize": 23, "align": "left", "baseline": "alphabetic", "color": "#111", "font": "Liberation Serif"},
  "encoding": {"x": {"field": "x", "type": "quantitative", "scale": {"domain": [0, 2290], "range": [62, 848], "nice": false, "zero": false}, "axis": null},
               "y": {"field": "y", "type": "quantitative", "scale": {"domain": [0, 832], "range": [424, 28], "nice": false, "zero": false}, "axis": null}, "text": {"field": "t", "type": "nominal"}}},
 {"data": {"values": [{"t": "d", "x": 61, "y": 787.6}]}, "mark": {"type": "text", "fontSize": 15, "align": "left", "baseline": "alphabetic", "color": "#111", "font": "Liberation Serif"},
  "encoding": {"x": {"field": "x", "type": "quantitative", "scale": {"domain": [0, 2290], "range": [62, 848], "nice": false, "zero": false}, "axis": null},
               "y": {"field": "y", "type": "quantitative", "scale": {"domain": [0, 832], "range": [424, 28], "nice": false, "zero": false}, "axis": null}, "text": {"field": "t", "type": "nominal"}}},
 {"data": {"values": [{"t": "a", "x": -145.6, "y": 838}]}, "mark": {"type": "text", "fontSize": 27, "fontWeight": "bold", "align": "left", "baseline": "alphabetic", "color": "#111", "font": "Liberation Serif"},
  "encoding": {"x": {"field": "x", "type": "quantitative", "scale": {"domain": [0, 2290], "range": [62, 848], "nice": false, "zero": false}, "axis": null},
               "y": {"field": "y", "type": "quantitative", "scale": {"domain": [0, 832], "range": [424, 28], "nice": false, "zero": false}, "axis": null}, "text": {"field": "t", "type": "nominal"}}},

 {"data": {"values": [{"x0": 400, "x1": 1000, "y0": 0, "y1": 250}]},
  "mark": {"type": "rect", "stroke": "#444", "strokeWidth": 1.5, "fill": {"gradient": "radial", "x1": 0.55, "y1": 0.45, "r1": 0, "x2": 0.55, "y2": 0.45, "r2": 0.8, "stops": [{"offset": 0, "color": "#ffffff"}, {"offset": 1, "color": "#d6d6d6"}]}},
  "encoding": {
    "x": {"field": "x0", "type": "quantitative", "scale": {"domain": [400, 1000], "range": [513, 855], "nice": false, "zero": false},
          "axis": {"orient": "bottom", "offset": -732, "zindex": 2, "values": [400,450,500,550,600,650,700,750,800,850,900,950,1000], "labelExpr": "datum.value % 100 === 0 ? datum.label : ''", "format": "d", "labelFont": "Liberation Serif", "title": null, "labelFontSize": 17, "tickSize": 4, "labelPadding": 6, "domainColor": "#444"}},
    "x2": {"field": "x1"},
    "y": {"field": "y0", "type": "quantitative", "scale": {"domain": [0, 250], "range": [246, 46], "nice": false, "zero": false},
          "axis": {"orient": "left", "offset": -513, "zindex": 2, "values": [0,10,20,30,40,50,60,70,80,90,100,110,120,130,140,150,160,170,180,190,200,210,220,230,240,250], "labelExpr": "datum.value % 50 === 0 ? datum.label : ''", "format": "d", "labelFont": "Liberation Serif", "title": null, "labelFontSize": 17, "tickSize": 3, "labelPadding": 2, "domainColor": "#444"}},
    "y2": {"field": "y1"}
  }},
 {"data": {"name": "gridIA"}, "transform": [{"filter": "datum.a === 'x' && datum.m === 0"}],
  "mark": {"type": "rule", "strokeWidth": 1, "color": "#d0d0d0"},
  "encoding": {"x": {"field": "v", "type": "quantitative", "scale": {"domain": [400, 1000], "range": [513, 855], "nice": false, "zero": false}, "axis": null},
               "y": {"field": "lo", "type": "quantitative", "scale": {"domain": [0, 250], "range": [246, 46], "nice": false, "zero": false}, "axis": null}, "y2": {"field": "hi"}}},
 {"data": {"name": "gridIA"}, "transform": [{"filter": "datum.a === 'x' && datum.m === 1"}],
  "mark": {"type": "rule", "strokeWidth": 1, "color": "#a8a8a8"},
  "encoding": {"x": {"field": "v", "type": "quantitative", "scale": {"domain": [400, 1000], "range": [513, 855], "nice": false, "zero": false}, "axis": null},
               "y": {"field": "lo", "type": "quantitative", "scale": {"domain": [0, 250], "range": [246, 46], "nice": false, "zero": false}, "axis": null}, "y2": {"field": "hi"}}},
 {"data": {"name": "gridIA"}, "transform": [{"filter": "datum.a === 'y'"}],
  "mark": {"type": "rule", "strokeWidth": 1, "color": "#b8b8b8"},
  "encoding": {"y": {"field": "v", "type": "quantitative", "scale": {"domain": [0, 250], "range": [246, 46], "nice": false, "zero": false}, "axis": null},
               "x": {"field": "lo", "type": "quantitative", "scale": {"domain": [400, 1000], "range": [513, 855], "nice": false, "zero": false}, "axis": null}, "x2": {"field": "hi"}}},
 {"data": {"name": "insetA"},
  "mark": {"type": "line", "interpolate": "catmull-rom", "color": "#111", "strokeWidth": 2.2},
  "encoding": {"x": {"field": "x", "type": "quantitative", "scale": {"domain": [400, 1000], "range": [513, 855], "nice": false, "zero": false}, "axis": null},
               "y": {"field": "y", "type": "quantitative", "scale": {"domain": [0, 250], "range": [246, 46], "nice": false, "zero": false}, "axis": null},
               "detail": {"field": "c", "type": "nominal"}, "order": {"field": "i", "type": "quantitative"}}},
 {"data": {"name": "arrowsIA"}, "mark": {"type": "line", "strokeWidth": 1.6},
  "encoding": {"x": {"field": "x", "type": "quantitative", "scale": {"domain": [400, 1000], "range": [513, 855], "nice": false, "zero": false}, "axis": null},
               "y": {"field": "y", "type": "quantitative", "scale": {"domain": [0, 250], "range": [246, 46], "nice": false, "zero": false}, "axis": null},
               "order": {"field": "i", "type": "quantitative"},
               "color": {"field": "label", "type": "nominal", "scale": {"domain": ["Timoshenko: 867 rad/s","Euler-Bernoulli: 892 rad/s","Modal hammer: 829 rad/s","Sweep excitation: 792 rad/s"], "range": ["#ff3b1a","#6242c6","#b3261e","#14b36b"]},
                         "legend": {"title": null, "orient": "none", "legendX": 582, "legendY": 287, "labelFont": "Liberation Serif", "labelFontSize": 23}},
               "strokeDash": {"field": "label", "type": "nominal", "scale": {"domain": ["Timoshenko: 867 rad/s","Euler-Bernoulli: 892 rad/s","Modal hammer: 829 rad/s","Sweep excitation: 792 rad/s"], "range": [[2,2],[8,4],[8,3,2,3],[7,2,1.5,2,1.5,2]]},
                         "legend": {"title": null, "orient": "none", "legendX": 582, "legendY": 287, "labelFont": "Liberation Serif", "labelFontSize": 23}}}},
 {"data": {"name": "arrowsIA"}, "transform": [{"filter": "datum.i === 0"}], "mark": {"type": "point", "shape": "triangle-left", "filled": true, "size": 50, "opacity": 1, "xOffset": 5},
  "encoding": {"x": {"field": "x", "type": "quantitative", "scale": {"domain": [400, 1000], "range": [513, 855], "nice": false, "zero": false}, "axis": null},
               "y": {"field": "y", "type": "quantitative", "scale": {"domain": [0, 250], "range": [246, 46], "nice": false, "zero": false}, "axis": null},
               "fill": {"field": "label", "type": "nominal", "scale": {"domain": ["Timoshenko: 867 rad/s","Euler-Bernoulli: 892 rad/s","Modal hammer: 829 rad/s","Sweep excitation: 792 rad/s"], "range": ["#ff3b1a","#6242c6","#b3261e","#14b36b"]}, "legend": null}}},
 {"data": {"name": "arrowsIA"}, "transform": [{"filter": "datum.i === 1"}], "mark": {"type": "point", "shape": "triangle-up", "filled": true, "size": 50, "opacity": 1, "yOffset": 10},
  "encoding": {"x": {"field": "x", "type": "quantitative", "scale": {"domain": [400, 1000], "range": [513, 855], "nice": false, "zero": false}, "axis": null},
               "y": {"field": "y", "type": "quantitative", "scale": {"domain": [0, 250], "range": [246, 46], "nice": false, "zero": false}, "axis": null},
               "fill": {"field": "label", "type": "nominal", "scale": {"domain": ["Timoshenko: 867 rad/s","Euler-Bernoulli: 892 rad/s","Modal hammer: 829 rad/s","Sweep excitation: 792 rad/s"], "range": ["#ff3b1a","#6242c6","#b3261e","#14b36b"]}, "legend": null}}},
 {"data": {"name": "arrowsIA"}, "transform": [{"filter": "datum.i > 0"}], "mark": {"type": "point", "shape": "circle", "filled": true, "size": 60, "color": "#8c8c8c", "stroke": "#333", "strokeWidth": 1, "opacity": 1},
  "encoding": {"x": {"field": "x", "type": "quantitative", "scale": {"domain": [400, 1000], "range": [513, 855], "nice": false, "zero": false}, "axis": null},
               "y": {"field": "y", "type": "quantitative", "scale": {"domain": [0, 250], "range": [246, 46], "nice": false, "zero": false}, "axis": null}}},
 {"data": {"values": [{"x0": 877, "x1": 996, "y0": 211, "y1": 251}]}, "mark": {"type": "rect", "color": "white", "stroke": "#888", "strokeWidth": 1, "cornerRadius": 6},
  "encoding": {"x": {"field": "x0", "type": "quantitative", "scale": {"domain": [400, 1000], "range": [513, 855], "nice": false, "zero": false}, "axis": null}, "x2": {"field": "x1"},
               "y": {"field": "y0", "type": "quantitative", "scale": {"domain": [0, 250], "range": [246, 46], "nice": false, "zero": false}, "axis": null}, "y2": {"field": "y1"}}},
 {"data": {"values": [{"t": "100/6", "x": 936, "y": 231}, {"t": "189.5", "x": 742, "y": 224}]}, "mark": {"type": "text", "fontSize": 23, "align": "center", "baseline": "middle", "color": "#333", "font": "Liberation Serif"},
  "encoding": {"x": {"field": "x", "type": "quantitative", "scale": {"domain": [400, 1000], "range": [513, 855], "nice": false, "zero": false}, "axis": null},
               "y": {"field": "y", "type": "quantitative", "scale": {"domain": [0, 250], "range": [246, 46], "nice": false, "zero": false}, "axis": null}, "text": {"field": "t", "type": "nominal"}}},
 {"data": {"values": [{"i": 0, "x": 734, "y": 212}, {"i": 1, "x": 729, "y": 202}, {"i": 2, "x": 730, "y": 190}]}, "mark": {"type": "line", "interpolate": "catmull-rom", "color": "#333", "strokeWidth": 1},
  "encoding": {"x": {"field": "x", "type": "quantitative", "scale": {"domain": [400, 1000], "range": [513, 855], "nice": false, "zero": false}, "axis": null},
               "y": {"field": "y", "type": "quantitative", "scale": {"domain": [0, 250], "range": [246, 46], "nice": false, "zero": false}, "axis": null}, "order": {"field": "i", "type": "quantitative"}}},

 {"data": {"values": [{"x0": 0, "x1": 1203, "y0": 0, "y1": 403}]},
  "mark": {"type": "rect", "fill": {"gradient": "radial", "x1": 0.5, "y1": 0.45, "r1": 0, "x2": 0.5, "y2": 0.45, "r2": 0.8, "stops": [{"offset": 0, "color": "#ffffff"}, {"offset": 1, "color": "#dedede"}]}},
  "encoding": {
    "x": {"field": "x0", "type": "quantitative", "scale": {"domain": [0, 1375], "range": [62, 835], "nice": false, "zero": false},
          "axis": {"orient": "bottom", "offset": -36.3, "zindex": 2, "values": [0,100,200,300,400,500,600,700,800,900,1000,1100,1200], "labelExpr": "datum.value % 200 === 0 ? datum.label : ''", "format": "d", "labelFont": "Liberation Serif", "titleFont": "Liberation Serif", "title": "α [rad/s]", "titleX": 778, "titleY": 21, "titleAlign": "left", "titleBaseline": "middle", "titleAngle": 0}},
    "x2": {"field": "x1"},
    "y": {"field": "y0", "type": "quantitative", "scale": {"domain": [0, 441.5], "range": [941.7, 541.7], "nice": false, "zero": false},
          "axis": {"orient": "left", "offset": -62, "zindex": 2, "values": [0,50,100,150,200,250,300,350,400], "labelExpr": "datum.value % 100 === 0 ? datum.label : ''", "format": "d", "labelFont": "Liberation Serif", "title": null}},
    "y2": {"field": "y1"}
  }},
 {"data": {"name": "gridB"}, "transform": [{"filter": "datum.a === 'x' && datum.m === 0"}],
  "mark": {"type": "rule", "strokeWidth": 1, "color": "#dadada"},
  "encoding": {"x": {"field": "v", "type": "quantitative", "scale": {"domain": [0, 1375], "range": [62, 835], "nice": false, "zero": false}, "axis": null},
               "y": {"field": "lo", "type": "quantitative", "scale": {"domain": [0, 441.5], "range": [941.7, 541.7], "nice": false, "zero": false}, "axis": null}, "y2": {"field": "hi"}}},
 {"data": {"name": "gridB"}, "transform": [{"filter": "datum.a === 'y' && datum.m === 0"}],
  "mark": {"type": "rule", "strokeWidth": 1, "color": "#dadada"},
  "encoding": {"y": {"field": "v", "type": "quantitative", "scale": {"domain": [0, 441.5], "range": [941.7, 541.7], "nice": false, "zero": false}, "axis": null},
               "x": {"field": "lo", "type": "quantitative", "scale": {"domain": [0, 1375], "range": [62, 835], "nice": false, "zero": false}, "axis": null}, "x2": {"field": "hi"}}},
 {"data": {"name": "gridB"}, "transform": [{"filter": "datum.a === 'x' && datum.m === 1"}],
  "mark": {"type": "rule", "strokeWidth": 1, "color": "#adadad"},
  "encoding": {"x": {"field": "v", "type": "quantitative", "scale": {"domain": [0, 1375], "range": [62, 835], "nice": false, "zero": false}, "axis": null},
               "y": {"field": "lo", "type": "quantitative", "scale": {"domain": [0, 441.5], "range": [941.7, 541.7], "nice": false, "zero": false}, "axis": null}, "y2": {"field": "hi"}}},
 {"data": {"name": "gridB"}, "transform": [{"filter": "datum.a === 'y' && datum.m === 1"}],
  "mark": {"type": "rule", "strokeWidth": 1, "color": "#adadad"},
  "encoding": {"y": {"field": "v", "type": "quantitative", "scale": {"domain": [0, 441.5], "range": [941.7, 541.7], "nice": false, "zero": false}, "axis": null},
               "x": {"field": "lo", "type": "quantitative", "scale": {"domain": [0, 1375], "range": [62, 835], "nice": false, "zero": false}, "axis": null}, "x2": {"field": "hi"}}},
 {"data": {"values": [{"x0": 0, "x1": 1375, "y0": 403, "y1": 403}, {"x0": 1203, "x1": 1203, "y0": 0, "y1": 403}]}, "mark": {"type": "rule", "color": "#555", "strokeWidth": 1.5},
  "encoding": {"x": {"field": "x0", "type": "quantitative", "scale": {"domain": [0, 1375], "range": [62, 835], "nice": false, "zero": false}, "axis": null}, "x2": {"field": "x1"},
               "y": {"field": "y0", "type": "quantitative", "scale": {"domain": [0, 441.5], "range": [941.7, 541.7], "nice": false, "zero": false}, "axis": null}, "y2": {"field": "y1"}}},
 {"data": {"name": "curvesB"}, "transform": [{"filter": "datum.k === 'm'"}],
  "mark": {"type": "line", "interpolate": "catmull-rom", "color": "#1a1a1a", "strokeWidth": 2.3, "strokeDash": [3, 0.8]},
  "encoding": {"x": {"field": "x", "type": "quantitative", "scale": {"domain": [0, 1375], "range": [62, 835], "nice": false, "zero": false}, "axis": null},
               "y": {"field": "y", "type": "quantitative", "scale": {"domain": [0, 441.5], "range": [941.7, 541.7], "nice": false, "zero": false}, "axis": null},
               "detail": {"field": "c", "type": "nominal"}, "order": {"field": "i", "type": "quantitative"}}},
 {"data": {"name": "curvesB"}, "transform": [{"filter": "datum.k === 't'"}],
  "mark": {"type": "line", "interpolate": "catmull-rom", "color": "#1a1a1a", "strokeWidth": 1.5, "strokeDash": [2.5, 1.2]},
  "encoding": {"x": {"field": "x", "type": "quantitative", "scale": {"domain": [0, 1375], "range": [62, 835], "nice": false, "zero": false}, "axis": null},
               "y": {"field": "y", "type": "quantitative", "scale": {"domain": [0, 441.5], "range": [941.7, 541.7], "nice": false, "zero": false}, "axis": null},
               "detail": {"field": "c", "type": "nominal"}, "order": {"field": "i", "type": "quantitative"}}},
 {"data": {"name": "curvesB"}, "transform": [{"filter": "datum.k === 'd'"}],
  "mark": {"type": "line", "interpolate": "catmull-rom", "color": "#222", "strokeWidth": 1.5, "strokeDash": [1.5, 4]},
  "encoding": {"x": {"field": "x", "type": "quantitative", "scale": {"domain": [0, 1375], "range": [62, 835], "nice": false, "zero": false}, "axis": null},
               "y": {"field": "y", "type": "quantitative", "scale": {"domain": [0, 441.5], "range": [941.7, 541.7], "nice": false, "zero": false}, "axis": null},
               "detail": {"field": "c", "type": "nominal"}, "order": {"field": "i", "type": "quantitative"}}},
 {"data": {"name": "guidesB"}, "mark": {"type": "line", "strokeWidth": 1.3},
  "encoding": {"x": {"field": "x", "type": "quantitative", "scale": {"domain": [0, 1375], "range": [62, 835], "nice": false, "zero": false}, "axis": null},
               "y": {"field": "y", "type": "quantitative", "scale": {"domain": [0, 441.5], "range": [941.7, 541.7], "nice": false, "zero": false}, "axis": null},
               "order": {"field": "i", "type": "quantitative"},
               "stroke": {"field": "label", "type": "nominal", "scale": {"domain": ["Timoshenko: 861 rad/s","Euler-Bernoulli: 886 rad/s","Modal hammer: 785 rad/s","Sweep excitation: 792 rad/s"], "range": ["#f4845f","#8a78d8","#b04848","#3fbf7f"]}, "legend": null}}},
 {"data": {"values": [{"x0": 615, "x1": 921.7, "y0": -8, "y1": 130.7}]}, "mark": {"type": "rect", "filled": false, "color": "#5645c4", "strokeDash": [6, 3], "strokeWidth": 1.5},
  "encoding": {"x": {"field": "x0", "type": "quantitative", "scale": {"domain": [0, 1375], "range": [62, 835], "nice": false, "zero": false}, "axis": null}, "x2": {"field": "x1"},
               "y": {"field": "y0", "type": "quantitative", "scale": {"domain": [0, 441.5], "range": [941.7, 541.7], "nice": false, "zero": false}, "axis": null}, "y2": {"field": "y1"}}},
 {"data": {"name": "arrowB"}, "mark": {"type": "line", "interpolate": "catmull-rom", "color": "#35289c", "strokeWidth": 2.4},
  "encoding": {"x": {"field": "x", "type": "quantitative", "scale": {"domain": [0, 1375], "range": [62, 835], "nice": false, "zero": false}, "axis": null},
               "y": {"field": "y", "type": "quantitative", "scale": {"domain": [0, 441.5], "range": [941.7, 541.7], "nice": false, "zero": false}, "axis": null},
               "order": {"field": "i", "type": "quantitative"}}},
 {"data": {"values": [{"x": 726, "y": 278, "s": "triangle-right", "z": "big"}, {"x": 1375, "y": 0, "s": "triangle-right", "z": "small"}, {"x": 0, "y": 441.5, "s": "triangle-up", "z": "small"}]}, "mark": {"type": "point", "filled": true, "opacity": 1},
  "encoding": {"x": {"field": "x", "type": "quantitative", "scale": {"domain": [0, 1375], "range": [62, 835], "nice": false, "zero": false}, "axis": null},
               "y": {"field": "y", "type": "quantitative", "scale": {"domain": [0, 441.5], "range": [941.7, 541.7], "nice": false, "zero": false}, "axis": null},
               "shape": {"field": "s", "type": "nominal", "scale": null},
               "color": {"field": "z", "type": "nominal", "scale": {"domain": ["big", "small"], "range": ["#35289c", "#111"]}, "legend": null},
               "size": {"field": "z", "type": "nominal", "scale": {"domain": ["big", "small"], "range": [120, 35]}, "legend": null}}},
 {"data": {"values": [{"t": "F", "x": 10.7, "y": 423.5}]}, "mark": {"type": "text", "fontSize": 23, "fontStyle": "italic", "align": "left", "baseline": "alphabetic", "color": "#111", "font": "Liberation Serif"},
  "encoding": {"x": {"field": "x", "type": "quantitative", "scale": {"domain": [0, 1375], "range": [62, 835], "nice": false, "zero": false}, "axis": null},
               "y": {"field": "y", "type": "quantitative", "scale": {"domain": [0, 441.5], "range": [941.7, 541.7], "nice": false, "zero": false}, "axis": null}, "text": {"field": "t", "type": "nominal"}}},
 {"data": {"values": [{"t": "[N]", "x": 62.3, "y": 423.5}]}, "mark": {"type": "text", "fontSize": 23, "align": "left", "baseline": "alphabetic", "color": "#111", "font": "Liberation Serif"},
  "encoding": {"x": {"field": "x", "type": "quantitative", "scale": {"domain": [0, 1375], "range": [62, 835], "nice": false, "zero": false}, "axis": null},
               "y": {"field": "y", "type": "quantitative", "scale": {"domain": [0, 441.5], "range": [941.7, 541.7], "nice": false, "zero": false}, "axis": null}, "text": {"field": "t", "type": "nominal"}}},
 {"data": {"values": [{"t": "d", "x": 37.4, "y": 420.2}]}, "mark": {"type": "text", "fontSize": 15, "align": "left", "baseline": "alphabetic", "color": "#111", "font": "Liberation Serif"},
  "encoding": {"x": {"field": "x", "type": "quantitative", "scale": {"domain": [0, 1375], "range": [62, 835], "nice": false, "zero": false}, "axis": null},
               "y": {"field": "y", "type": "quantitative", "scale": {"domain": [0, 441.5], "range": [941.7, 541.7], "nice": false, "zero": false}, "axis": null}, "text": {"field": "t", "type": "nominal"}}},
 {"data": {"values": [{"t": "b", "x": -89, "y": 451}]}, "mark": {"type": "text", "fontSize": 27, "fontWeight": "bold", "align": "left", "baseline": "alphabetic", "color": "#111", "font": "Liberation Serif"},
  "encoding": {"x": {"field": "x", "type": "quantitative", "scale": {"domain": [0, 1375], "range": [62, 835], "nice": false, "zero": false}, "axis": null},
               "y": {"field": "y", "type": "quantitative", "scale": {"domain": [0, 441.5], "range": [941.7, 541.7], "nice": false, "zero": false}, "axis": null}, "text": {"field": "t", "type": "nominal"}}},

 {"data": {"values": [{"x0": 300, "x1": 1100, "y0": 0, "y1": 30}]},
  "mark": {"type": "rect", "stroke": "#444", "strokeWidth": 1.5, "fill": {"gradient": "radial", "x1": 0.55, "y1": 0.45, "r1": 0, "x2": 0.55, "y2": 0.45, "r2": 0.8, "stops": [{"offset": 0, "color": "#ffffff"}, {"offset": 1, "color": "#d6d6d6"}]}},
  "encoding": {
    "x": {"field": "x0", "type": "quantitative", "scale": {"domain": [300, 1100], "range": [508, 857], "nice": false, "zero": false},
          "axis": {"orient": "bottom", "offset": -218, "zindex": 2, "values": [300,350,400,450,500,550,600,650,700,750,800,850,900,950,1000,1050,1100], "labelExpr": "datum.value % 100 === 0 ? datum.label : ''", "format": "d", "labelFont": "Liberation Serif", "title": null, "labelFontSize": 17, "tickSize": 4, "labelPadding": 5, "domainColor": "#444"}},
    "x2": {"field": "x1"},
    "y": {"field": "y0", "type": "quantitative", "scale": {"domain": [0, 30], "range": [760, 535], "nice": false, "zero": false},
          "axis": {"orient": "left", "offset": -508, "zindex": 2, "values": [0,2,4,6,8,10,12,14,16,18,20,22,24,26,28,30], "labelExpr": "datum.value % 10 === 0 ? datum.label : ''", "format": "d", "labelFont": "Liberation Serif", "title": null, "labelFontSize": 17, "tickSize": 3, "labelPadding": 2, "domainColor": "#444"}},
    "y2": {"field": "y1"}
  }},
 {"data": {"name": "gridIB"}, "transform": [{"filter": "datum.a === 'x' && datum.m === 0"}],
  "mark": {"type": "rule", "strokeWidth": 1, "color": "#d0d0d0"},
  "encoding": {"x": {"field": "v", "type": "quantitative", "scale": {"domain": [300, 1100], "range": [508, 857], "nice": false, "zero": false}, "axis": null},
               "y": {"field": "lo", "type": "quantitative", "scale": {"domain": [0, 30], "range": [760, 535], "nice": false, "zero": false}, "axis": null}, "y2": {"field": "hi"}}},
 {"data": {"name": "gridIB"}, "transform": [{"filter": "datum.a === 'x' && datum.m === 1"}],
  "mark": {"type": "rule", "strokeWidth": 1, "color": "#a8a8a8"},
  "encoding": {"x": {"field": "v", "type": "quantitative", "scale": {"domain": [300, 1100], "range": [508, 857], "nice": false, "zero": false}, "axis": null},
               "y": {"field": "lo", "type": "quantitative", "scale": {"domain": [0, 30], "range": [760, 535], "nice": false, "zero": false}, "axis": null}, "y2": {"field": "hi"}}},
 {"data": {"name": "gridIB"}, "transform": [{"filter": "datum.a === 'y'"}],
  "mark": {"type": "rule", "strokeWidth": 1, "color": "#b8b8b8"},
  "encoding": {"y": {"field": "v", "type": "quantitative", "scale": {"domain": [0, 30], "range": [760, 535], "nice": false, "zero": false}, "axis": null},
               "x": {"field": "lo", "type": "quantitative", "scale": {"domain": [300, 1100], "range": [508, 857], "nice": false, "zero": false}, "axis": null}, "x2": {"field": "hi"}}},
 {"data": {"name": "insetB"},
  "mark": {"type": "line", "interpolate": "catmull-rom", "color": "#111", "strokeWidth": 2.2},
  "encoding": {"x": {"field": "x", "type": "quantitative", "scale": {"domain": [300, 1100], "range": [508, 857], "nice": false, "zero": false}, "axis": null},
               "y": {"field": "y", "type": "quantitative", "scale": {"domain": [0, 30], "range": [760, 535], "nice": false, "zero": false}, "axis": null},
               "detail": {"field": "c", "type": "nominal"}, "order": {"field": "i", "type": "quantitative"}}},
 {"data": {"name": "arrowsIB"}, "mark": {"type": "line", "strokeWidth": 1.6},
  "encoding": {"x": {"field": "x", "type": "quantitative", "scale": {"domain": [300, 1100], "range": [508, 857], "nice": false, "zero": false}, "axis": null},
               "y": {"field": "y", "type": "quantitative", "scale": {"domain": [0, 30], "range": [760, 535], "nice": false, "zero": false}, "axis": null},
               "order": {"field": "i", "type": "quantitative"},
               "color": {"field": "label", "type": "nominal", "scale": {"domain": ["Timoshenko: 861 rad/s","Euler-Bernoulli: 886 rad/s","Modal hammer: 785 rad/s","Sweep excitation: 792 rad/s"], "range": ["#ff3b1a","#6242c6","#b3261e","#14b36b"]},
                         "legend": {"title": null, "orient": "none", "legendX": 582, "legendY": 799, "labelFont": "Liberation Serif", "labelFontSize": 23}},
               "strokeDash": {"field": "label", "type": "nominal", "scale": {"domain": ["Timoshenko: 861 rad/s","Euler-Bernoulli: 886 rad/s","Modal hammer: 785 rad/s","Sweep excitation: 792 rad/s"], "range": [[2,2],[8,4],[8,3,2,3],[7,2,1.5,2,1.5,2]]},
                         "legend": {"title": null, "orient": "none", "legendX": 582, "legendY": 799, "labelFont": "Liberation Serif", "labelFontSize": 23}}}},
 {"data": {"name": "arrowsIB"}, "transform": [{"filter": "datum.i === 0"}], "mark": {"type": "point", "shape": "triangle-left", "filled": true, "size": 50, "opacity": 1, "xOffset": 5},
  "encoding": {"x": {"field": "x", "type": "quantitative", "scale": {"domain": [300, 1100], "range": [508, 857], "nice": false, "zero": false}, "axis": null},
               "y": {"field": "y", "type": "quantitative", "scale": {"domain": [0, 30], "range": [760, 535], "nice": false, "zero": false}, "axis": null},
               "fill": {"field": "label", "type": "nominal", "scale": {"domain": ["Timoshenko: 861 rad/s","Euler-Bernoulli: 886 rad/s","Modal hammer: 785 rad/s","Sweep excitation: 792 rad/s"], "range": ["#ff3b1a","#6242c6","#b3261e","#14b36b"]}, "legend": null}}},
 {"data": {"name": "arrowsIB"}, "transform": [{"filter": "datum.i === 1"}], "mark": {"type": "point", "shape": "triangle-up", "filled": true, "size": 50, "opacity": 1, "yOffset": 10},
  "encoding": {"x": {"field": "x", "type": "quantitative", "scale": {"domain": [300, 1100], "range": [508, 857], "nice": false, "zero": false}, "axis": null},
               "y": {"field": "y", "type": "quantitative", "scale": {"domain": [0, 30], "range": [760, 535], "nice": false, "zero": false}, "axis": null},
               "fill": {"field": "label", "type": "nominal", "scale": {"domain": ["Timoshenko: 861 rad/s","Euler-Bernoulli: 886 rad/s","Modal hammer: 785 rad/s","Sweep excitation: 792 rad/s"], "range": ["#ff3b1a","#6242c6","#b3261e","#14b36b"]}, "legend": null}}},
 {"data": {"name": "arrowsIB"}, "transform": [{"filter": "datum.i > 0"}], "mark": {"type": "point", "shape": "circle", "filled": true, "size": 60, "color": "#8c8c8c", "stroke": "#333", "strokeWidth": 1, "opacity": 1},
  "encoding": {"x": {"field": "x", "type": "quantitative", "scale": {"domain": [300, 1100], "range": [508, 857], "nice": false, "zero": false}, "axis": null},
               "y": {"field": "y", "type": "quantitative", "scale": {"domain": [0, 30], "range": [760, 535], "nice": false, "zero": false}, "axis": null}}},
 {"data": {"values": [{"x0": 938.5, "x1": 1094.6, "y0": 24.7, "y1": 28.9}]}, "mark": {"type": "rect", "color": "white", "stroke": "#888", "strokeWidth": 1, "cornerRadius": 6},
  "encoding": {"x": {"field": "x0", "type": "quantitative", "scale": {"domain": [300, 1100], "range": [508, 857], "nice": false, "zero": false}, "axis": null}, "x2": {"field": "x1"},
               "y": {"field": "y0", "type": "quantitative", "scale": {"domain": [0, 30], "range": [760, 535], "nice": false, "zero": false}, "axis": null}, "y2": {"field": "y1"}}},
 {"data": {"values": [{"t": "120/6", "x": 1016.5, "y": 26.8}, {"t": "11.2", "x": 619, "y": 12.7}]}, "mark": {"type": "text", "fontSize": 23, "align": "center", "baseline": "middle", "color": "#333", "font": "Liberation Serif"},
  "encoding": {"x": {"field": "x", "type": "quantitative", "scale": {"domain": [300, 1100], "range": [508, 857], "nice": false, "zero": false}, "axis": null},
               "y": {"field": "y", "type": "quantitative", "scale": {"domain": [0, 30], "range": [760, 535], "nice": false, "zero": false}, "axis": null}, "text": {"field": "t", "type": "nominal"}}}
],
"resolve": {
  "scale": {"x": "independent", "y": "independent", "color": "independent", "strokeDash": "independent", "stroke": "independent", "fill": "independent", "shape": "independent", "size": "independent"},
  "axis": {"x": "independent", "y": "independent"},
  "legend": {"color": "independent", "strokeDash": "independent", "stroke": "independent", "fill": "independent", "shape": "independent", "size": "independent"}
}
}
